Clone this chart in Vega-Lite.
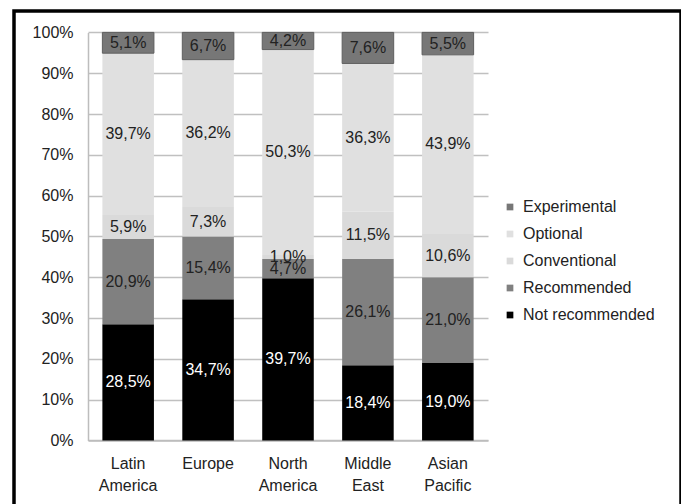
{
  "$schema": "https://vega.github.io/schema/vega-lite/v6.json",
  "width": 667,
  "height": 500,
  "padding": {"left": 14, "top": 11, "right": 0, "bottom": 0},
  "background": "#ffffff",
  "config": {
    "view": {"stroke": "#000000", "strokeWidth": 3.5},
    "font": "Liberation Sans",
    "axis": {"labelFont": "Liberation Sans", "labelFontSize": 16, "labelColor": "#222222"},
    "legend": {"labelFont": "Liberation Sans", "labelFontSize": 16, "labelColor": "#222222"}
  },
  "data": {
    "values": [
      {"region": "Latin America", "series": "Not recommended", "value": 28.5},
      {"region": "Latin America", "series": "Recommended", "value": 20.9},
      {"region": "Latin America", "series": "Conventional", "value": 5.9},
      {"region": "Latin America", "series": "Optional", "value": 39.7},
      {"region": "Latin America", "series": "Experimental", "value": 5.1},
      {"region": "Europe", "series": "Not recommended", "value": 34.7},
      {"region": "Europe", "series": "Recommended", "value": 15.4},
      {"region": "Europe", "series": "Conventional", "value": 7.3},
      {"region": "Europe", "series": "Optional", "value": 36.2},
      {"region": "Europe", "series": "Experimental", "value": 6.7},
      {"region": "North America", "series": "Not recommended", "value": 39.7},
      {"region": "North America", "series": "Recommended", "value": 4.7},
      {"region": "North America", "series": "Conventional", "value": 1.0},
      {"region": "North America", "series": "Optional", "value": 50.3},
      {"region": "North America", "series": "Experimental", "value": 4.2},
      {"region": "Middle East", "series": "Not recommended", "value": 18.4},
      {"region": "Middle East", "series": "Recommended", "value": 26.1},
      {"region": "Middle East", "series": "Conventional", "value": 11.5},
      {"region": "Middle East", "series": "Optional", "value": 36.3},
      {"region": "Middle East", "series": "Experimental", "value": 7.6},
      {"region": "Asian Pacific", "series": "Not recommended", "value": 19.0},
      {"region": "Asian Pacific", "series": "Recommended", "value": 21.0},
      {"region": "Asian Pacific", "series": "Conventional", "value": 10.6},
      {"region": "Asian Pacific", "series": "Optional", "value": 43.9},
      {"region": "Asian Pacific", "series": "Experimental", "value": 5.5}
    ]
  },
  "transform": [
    {"calculate": "indexof(['Not recommended','Recommended','Conventional','Optional','Experimental'], datum.series)", "as": "ord"},
    {"stack": "value", "groupby": ["region"], "sort": [{"field": "ord", "order": "ascending"}], "offset": "normalize", "as": ["y0", "y1"]},
    {"calculate": "(datum.y0 + datum.y1) / 2", "as": "ymid"},
    {"calculate": "replace(format(datum.value, '.1f'), '.', ',') + '%'", "as": "label"}
  ],
  "encoding": {
    "x": {
      "field": "region",
      "type": "nominal",
      "sort": ["Latin America", "Europe", "North America", "Middle East", "Asian Pacific"],
      "scale": {"range": [74, 474], "paddingInner": 0.355, "paddingOuter": 0.18},
      "axis": {
        "title": null,
        "orient": "bottom",
        "offset": -70.6,
        "labelAngle": 0,
        "labelExpr": "split(datum.label, ' ')",
        "labelLineHeight": 22,
        "labelPadding": 15,
        "ticks": false,
        "domainColor": "#bdbdbd",
        "domainWidth": 1.5,
        "grid": false
      }
    }
  },
  "layer": [
    {
      "mark": {"type": "bar"},
      "encoding": {
        "y": {
          "field": "y0",
          "type": "quantitative",
          "scale": {"domain": [0, 1], "range": [429.4, 21.4], "nice": false},
          "axis": {
            "title": null,
            "orient": "left",
            "offset": -74,
            "format": ".0%",
            "values": [0, 0.1, 0.2, 0.3, 0.4, 0.5, 0.6, 0.7, 0.8, 0.9, 1],
            "ticks": false,
            "labelPadding": 15,
            "grid": true,
            "gridColor": "#c0c0c0",
            "gridWidth": 1.5,
            "domainColor": "#bdbdbd",
            "domainWidth": 1.5
          }
        },
        "y2": {"field": "y1"},
        "color": {
          "field": "series",
          "type": "nominal",
          "scale": {
            "domain": ["Experimental", "Optional", "Conventional", "Recommended", "Not recommended"],
            "range": ["#777777", "#e0e0e0", "#dadada", "#808080", "#000000"]
          },
          "legend": {
            "title": null,
            "orient": "none",
            "legendX": 488,
            "legendY": 188,
            "symbolType": "square",
            "symbolSize": 45,
            "symbolStrokeWidth": 0,
            "rowPadding": 11,
            "labelOffset": 5,
            "padding": 0
          }
        },
        "stroke": {
          "condition": {"test": "datum.series === 'Experimental'", "value": "#5f5f5f"},
          "value": null
        },
        "strokeWidth": {"value": 1}
      }
    },
    {
      "mark": {"type": "text", "fontSize": 16, "font": "Liberation Sans", "baseline": "middle"},
      "encoding": {
        "y": {"field": "ymid", "type": "quantitative"},
        "text": {"field": "label"},
        "color": {
          "condition": {"test": "datum.series === 'Not recommended'", "value": "#ffffff"},
          "value": "#222222"
        }
      }
    }
  ]
}
